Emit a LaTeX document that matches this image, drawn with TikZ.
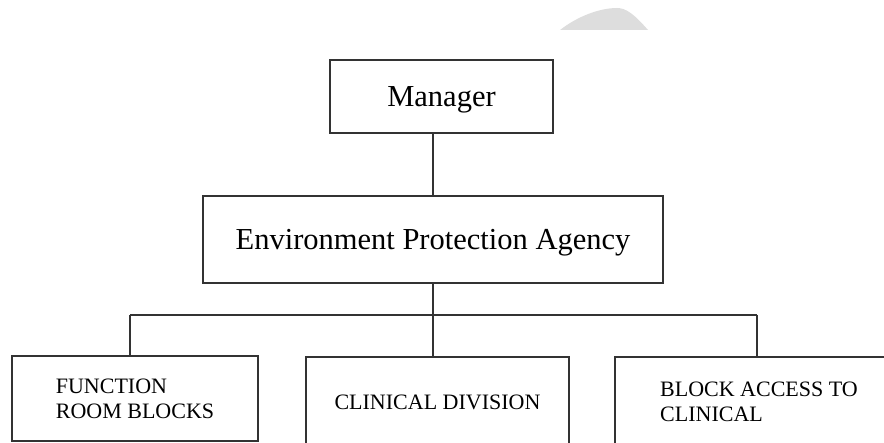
\documentclass[tikz,border=0pt]{standalone}
\usepackage{fontspec}
\setmainfont{Liberation Serif}
\definecolor{linegray}{RGB}{51,51,51}
\definecolor{blobgray}{RGB}{221,221,221}
\begin{document}
\begin{tikzpicture}[x=1pt, y=-1pt, line join=miter,
		box/.style={draw=linegray, line width=1.5pt, rectangle, inner sep=0pt, align=left},
		big/.style={font=\fontsize{30.5}{34}\selectfont, text depth=0pt},
		small/.style={font=\fontsize{22}{25}\selectfont}]
		\def\busy{315}
		\useasboundingbox (0,0) rectangle (884,443);
		\clip (0,0) rectangle (884,443);
		% grey blob at the top edge
		\fill[blobgray] (560,30) .. controls (578,16) and (600,8) .. (617,8) .. controls (626,8) and (634,14) .. (648,30) -- cycle;
		% boxes
		\node[box, big, minimum width=223, minimum height=73] (mgr) at (441.5,96.5) {Manager};
		\node[box, big, minimum width=460, minimum height=87] (epa) at (433,239.5) {Environment Protection Agency};
		\node[box, small, minimum width=246, minimum height=85] (func) at (135,398.5) {FUNCTION\\ROOM BLOCKS};
		\node[box, small, minimum width=263, minimum height=90] (clin) at (437.5,402) {CLINICAL DIVISION};
		\node[box, small, minimum width=288, minimum height=90] (acc) at (759,402) {BLOCK ACCESS TO\\CLINICAL};
		% connectors
		\draw[linegray, line width=1.5pt] (epa.north) -- (epa.north |- mgr.south);
		\draw[linegray, line width=1.5pt] (epa.south) -- (epa.south |- 0,\busy) coordinate (bus);
		\draw[linegray, line width=1.5pt] (130,\busy) coordinate (busl) -- (757,\busy) coordinate (busr);
		\draw[linegray, line width=1.5pt] (busl) -- (busl |- func.north);
		\draw[linegray, line width=1.5pt] (bus) -- (bus |- clin.north);
		\draw[linegray, line width=1.5pt] (busr) -- (busr |- acc.north);
\end{tikzpicture}
\end{document}
